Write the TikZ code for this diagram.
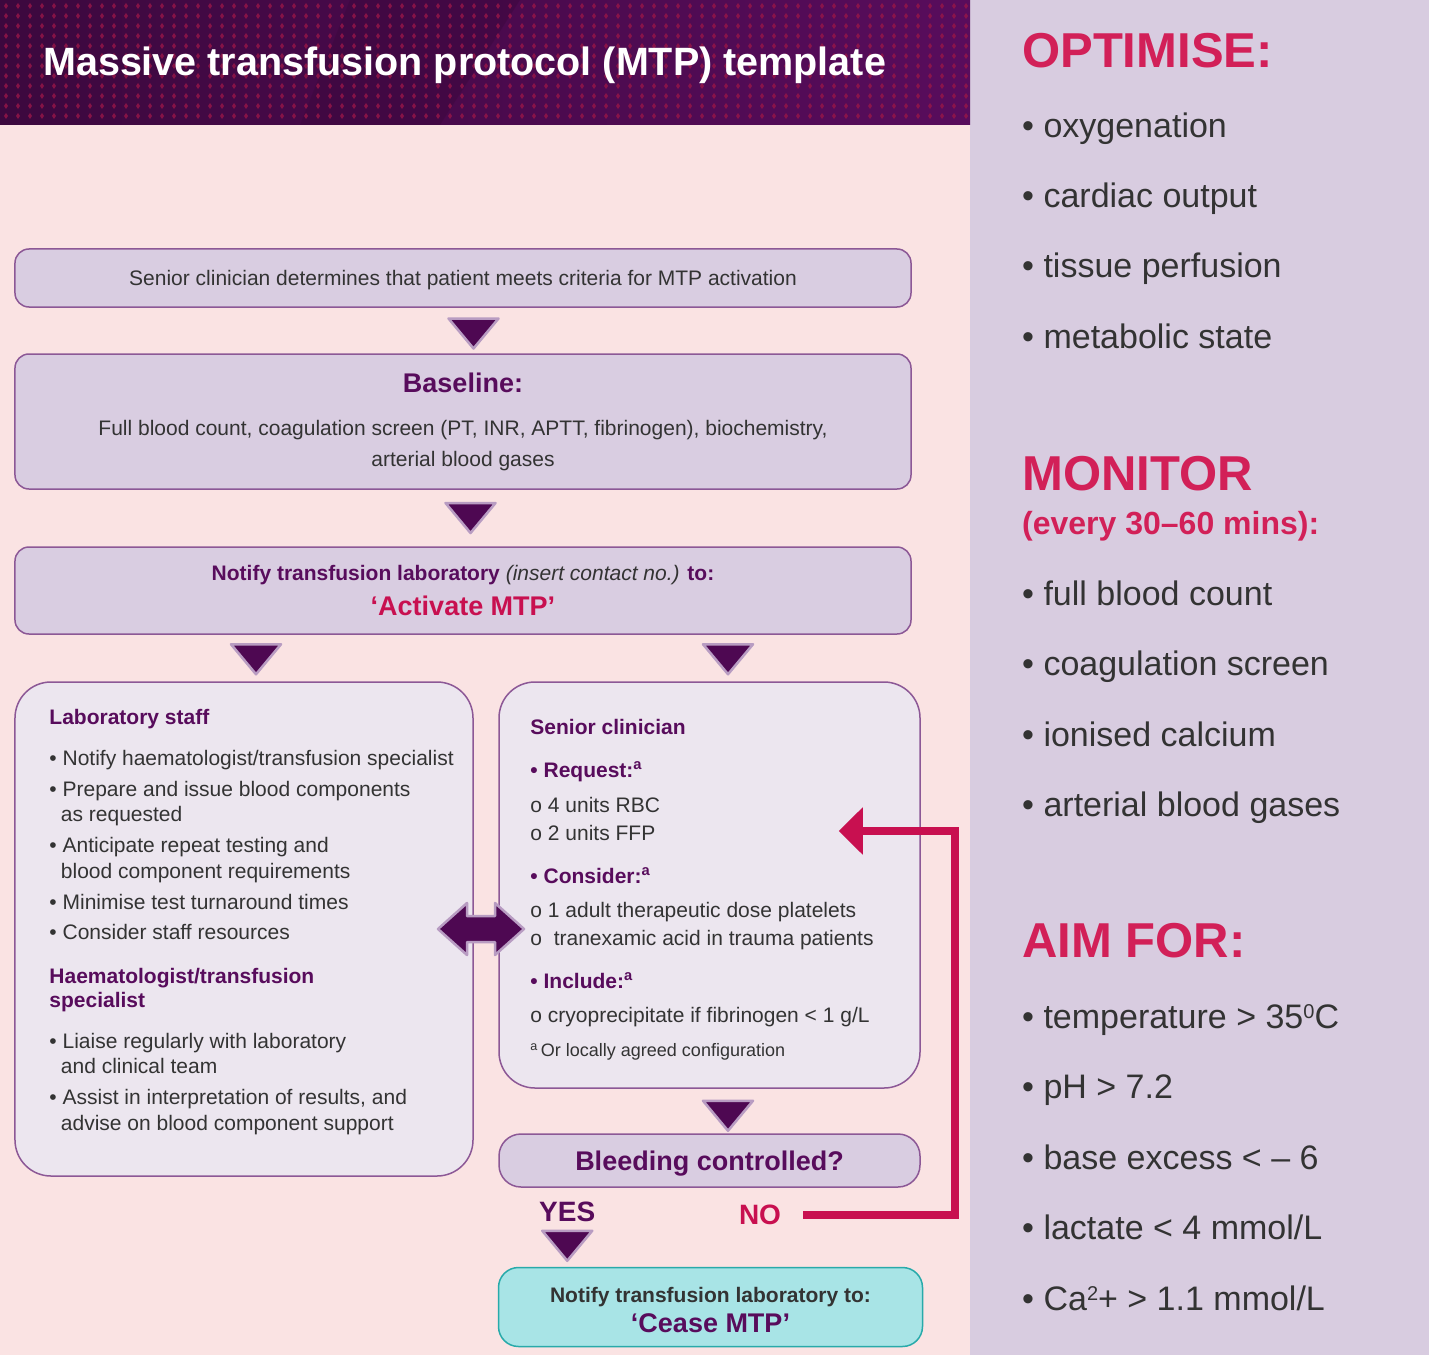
\documentclass[tikz,border=0pt]{standalone}
\usepackage{fontspec}
\setmainfont{Liberation Sans}
\usepackage{tikz}
\usetikzlibrary{positioning,calc,arrows.meta}

\definecolor{pinkbg}{RGB}{250,227,227}
\definecolor{lavbg}{RGB}{216,204,224}
\definecolor{boxfill}{RGB}{217,205,225}
\definecolor{boxline}{RGB}{140,88,150}
\definecolor{bigfill}{RGB}{236,230,239}
\definecolor{cyanfill}{RGB}{168,228,230}
\definecolor{tealline}{RGB}{40,170,170}
\definecolor{textgray}{RGB}{51,51,51}
\definecolor{mtppurple}{RGB}{88,12,92}
\definecolor{trifill}{RGB}{78,8,82}
\definecolor{tririm}{RGB}{184,156,194}
\definecolor{mtpred}{RGB}{200,16,80}
\definecolor{sidered}{RGB}{210,32,88}
\definecolor{hddark}{RGB}{60,8,62}
\definecolor{hdmid}{RGB}{88,12,92}
\definecolor{hddot}{RGB}{150,22,72}

\newcommand{\fsz}[2]{\fontsize{#1bp}{#2bp}\selectfont}
\newcommand{\hdc}[1]{{\color{mtppurple}\bfseries #1}}
\newcommand{\supa}{\textsuperscript{a}}

\begin{document}
\begin{tikzpicture}[
x=1bp, y=-1bp,
box/.style={draw=boxline, line width=1.5bp, fill=boxfill, rounded corners=14bp, align=center, text=textgray, inner sep=0pt},
bigbox/.style={draw=boxline, line width=1.5bp, fill=bigfill, rounded corners=36bp, inner sep=0pt},
txt/.style={anchor=base west, align=left, inner sep=0pt, text=textgray, font=\fsz{21}{25.5}},
side/.style={anchor=base west, inner sep=0pt, text=textgray, font=\fsz{34}{40}},
sidehd/.style={anchor=base west, inner sep=0pt, text=sidered, font=\bfseries\fsz{49}{55}},
answer/.style={anchor=base, inner sep=0pt, font=\bfseries\fsz{28}{32}},
downtri/.pic={\filldraw[fill=trifill, draw=tririm, line width=2.5bp, line join=round] (-25,-15) -- (25,-15) -- (0,15) -- cycle;},
dblarrow/.style={fill=trifill, draw=tririm, line width=2.5bp, line join=round},
noline/.style={draw=mtpred, line width=8bp, line join=miter, -{Triangle[length=24bp,width=46bp]}}
]
\useasboundingbox (0,0) rectangle (1429,1355);
\fill[pinkbg] (0,0) rectangle (1429,1355);
\fill[lavbg] (970,0) rectangle (1429,1355);

% header band
\shade[left color=hddark, right color=hdmid] (0,0) rectangle (970,125);
\fill[hddark, opacity=0.5] (350,0) -- (520,0) -- (440,125) -- (300,125) -- cycle;
\foreach \x in {6,18,...,966}
  \foreach \y in {6,16,...,120}
    \fill[hddot, opacity=0.8] (\x,\y-3) -- (\x+2,\y) -- (\x,\y+3) -- (\x-2,\y) -- cycle;
\node[anchor=base west, inner sep=0pt, text=white, font=\bfseries\fsz{39.5}{44}] (title) at (43,76) {Massive transfusion protocol (MTP) template};

% flow boxes
\node[box, minimum width=896bp, minimum height=58bp, font=\fsz{21}{25}] (crit) at (463,278) {\rule{0pt}{19.5bp}Senior clinician determines that patient meets criteria for MTP activation};
\node[box, minimum width=896bp, minimum height=135bp, font=\fsz{21}{31}] (bloods) at (463,421.5) {{\color{mtppurple}\bfseries\fsz{27}{31}Baseline:}\\[12bp]
Full blood count, coagulation screen (PT, INR, APTT, fibrinogen), biochemistry,\\
arterial blood gases};
\node[box, minimum width=896bp, minimum height=87bp, font=\fsz{21}{35}] (notify) at (463,590.5) {{\color{mtppurple}\bfseries Notify transfusion laboratory} \textit{(insert contact no.)} {\color{mtppurple}\bfseries to:}\\
{\color{mtpred}\bfseries\fsz{27}{35}‘Activate MTP’}};

\node[bigbox, minimum width=458bp, minimum height=494bp] (lab) at (244,929) {};
\node[bigbox, minimum width=421bp, minimum height=406bp] (sen) at (709.5,885) {};

% multi-line text: base anchor sits on the last line
\node[txt] (labtxt) at ($(lab.north west)+(35,449)$) {%
\hdc{Laboratory staff}\\[15.5bp]
• Notify haematologist/transfusion specialist\\[5.5bp]
• Prepare and issue blood components\\
\hspace*{11.5bp}as requested\\[5.5bp]
• Anticipate repeat testing and\\
\hspace*{11.5bp}blood component requirements\\[5.5bp]
• Minimise test turnaround times\\[4.5bp]
• Consider staff resources\\[18.5bp]
\hdc{Haematologist/transfusion}\\[-1.5bp]
\hdc{specialist}\\[15.5bp]
• Liaise regularly with laboratory\\
\hspace*{11.5bp}and clinical team\\[5.5bp]
• Assist in interpretation of results, and\\
\hspace*{11.5bp}advise on blood component support};

\node[txt, font=\fsz{21}{28}] (sentxt) at ($(sen.north west)+(32,375)$) {%
\hdc{Senior clinician}\\[15bp]
\hdc{• Request:\supa}\\[7bp]
o 4 units RBC\\
o 2 units FFP\\[15bp]
\hdc{• Consider:\supa}\\[6bp]
o 1 adult therapeutic dose platelets\\
o\ \ tranexamic acid in trauma patients\\[15bp]
\hdc{• Include:\supa}\\[6bp]
o cryoprecipitate if fibrinogen < 1 g/L\\[6bp]
{\fsz{18}{28}\supa\,Or locally agreed configuration}};

\node[box, rounded corners=22bp, minimum width=421bp, minimum height=53bp, font=\bfseries\fsz{27}{30}, text=mtppurple] (bleed) at (709.5,1160.5) {\rule{0pt}{26bp}Bleeding controlled?};
\node[box, draw=tealline, fill=cyanfill, rounded corners=20bp, minimum width=424bp, minimum height=79bp, font=\bfseries\fsz{21}{30.5}] (cease) at (710.5,1307) {\rule{0pt}{21bp}{\color{textgray}Notify transfusion laboratory to:}\\
{\color{mtppurple}\fsz{27}{30}‘Cease MTP’}};

\node[answer, text=mtppurple] (yes) at ($(bleed.south west)+(69,34)$) {YES};
\node[answer, text=mtpred] (no) at ($(bleed.south)+(50.5,37)$) {NO};

% arrow heads between steps
\pic at ($(crit.south)!0.5!(bloods.north)+(10.5,3)$) {downtri};
\pic at ($(bloods.south)!0.5!(notify.north)+(7.5,0)$) {downtri};
\pic at ($(lab.north)+(12,-22)$) {downtri};
\pic at ($(sen.north)+(18.5,-22)$) {downtri};
\pic at ($(sen.south)+(18.5,27)$) {downtri};
\pic at ($(yes|-cease.north)+(0,-21)$) {downtri};

% two-way link between the teams
\coordinate (dbl) at ($(lab.east)!0.5!(sen.west|-lab.east)+(-5,0)$);
\filldraw[dblarrow, shift={(dbl)}] (-43,0) -- (-14,-26) -- (-14,-13) -- (14,-13) -- (14,-26) -- (43,0) -- (14,26) -- (14,13) -- (-14,13) -- (-14,26) -- cycle;

% NO loops back to the requests
\coordinate (loopc) at ($(sen.east)+(34,-54)$);
\coordinate (back) at ($(sen.east)+(-82,-54)$);
\draw[noline] ([xshift=22bp]no.east) -| (loopc) -- (back);

% side panel
\node[sidehd] (opt) at (1022,67.5) {OPTIMISE:};
\foreach \t [count=\i from 0] in {oxygenation, cardiac output, tissue perfusion, metabolic state}
  \node[side] (opt\i) at (1022,{138+70*\i}) {• \t};
\node[sidehd] (mon) at (1022,490.5) {MONITOR};
\node[sidehd, font=\bfseries\fsz{32}{36}] (monfreq) at (1022,534) {(every 30–60 mins):};
\foreach \t [count=\i from 0] in {full blood count, coagulation screen, ionised calcium, arterial blood gases}
  \node[side] (mon\i) at (1022,{605+70.5*\i}) {• \t};
\node[sidehd] (aim) at (1022,957.5) {AIM FOR:};
\foreach \t [count=\i from 0] in {temperature > 35{\fsz{20}{20}\raisebox{10bp}{0}}C, pH > 7.2, base excess < – 6, lactate < 4 mmol/L, Ca{\fsz{20}{20}\raisebox{10bp}{2}}+ > 1.1 mmol/L}
  \node[side] (aim\i) at (1022,{1028+70.5*\i}) {• \t};
\end{tikzpicture}
\end{document}
